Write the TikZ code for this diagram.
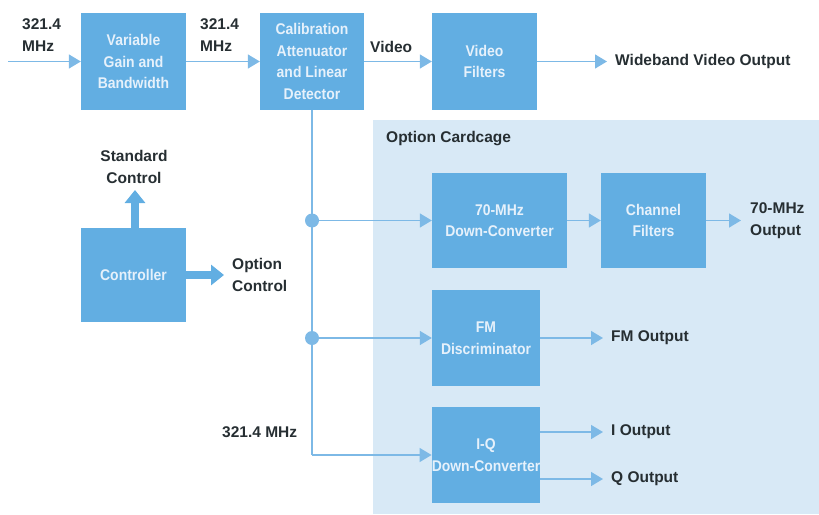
\documentclass[tikz,border=0pt]{standalone}
\usepackage{fontspec}
\setmainfont{Liberation Sans}
\newfontfamily\boxfont{Liberation Sans}[FakeStretch=0.9]
\usetikzlibrary{arrows.meta}
\definecolor{boxblue}{RGB}{98,174,226}
\definecolor{lineblue}{RGB}{125,185,230}
\definecolor{cage}{RGB}{216,233,246}
\definecolor{boxtext}{RGB}{230,241,251}
\definecolor{labeltext}{RGB}{38,46,50}
\begin{document}
\begin{tikzpicture}[x=1pt,y=-1pt,
  box/.style={rectangle, fill=boxblue, text=boxtext, font=\boxfont\bfseries\fontsize{15.5}{21.5}\selectfont, align=center, inner sep=0pt},
  lbl/.style={text=labeltext, font=\bfseries\fontsize{15.5}{22}\selectfont, align=left, inner sep=0pt},
  flow/.style={draw=lineblue, line width=1.5pt, -{Triangle[length=12pt,width=14pt]}},
  wire/.style={draw=lineblue, line width=1.5pt},
  fatarrow/.style={draw=boxblue, line width=8pt, -{Triangle[length=13pt,width=20pt]}},
  dot/.style={circle, fill=lineblue, minimum size=14pt, inner sep=0pt}]
\useasboundingbox (0,0) rectangle (819,514);
\fill[cage] (373,120) rectangle (819,514);

% boxes
\node[box, minimum width=105pt, minimum height=97pt] (vgb) at (133.5,61.5) {Variable\\Gain and\\Bandwidth};
\node[box, minimum width=104pt, minimum height=97pt] (cal) at (312,61.5) {Calibration\\Attenuator\\and Linear\\Detector};
\node[box, minimum width=105pt, minimum height=97pt] (vf) at (484.5,61.5) {Video\\Filters};
\node[box, minimum width=105pt, minimum height=94pt] (ctrl) at (133.5,275) {Controller};
\node[box, minimum width=135pt, minimum height=95pt] (dc70) at (499.5,220.5) {70-MHz\\Down-Converter};
\node[box, minimum width=105pt, minimum height=95pt] (cf) at (653.5,220.5) {Channel\\Filters};
\node[box, minimum width=108pt, minimum height=96pt] (fm) at (486,338) {FM\\Discriminator};
\node[box, minimum width=108pt, minimum height=96pt] (iq) at (486,455) {I-Q\\Down-Converter};

% labels
\node[lbl, anchor=west] (in1) at (22,35) {321.4\\MHz};
\node[lbl, anchor=west] (in2) at (200,35) {321.4\\MHz};
\node[lbl, anchor=west] (vid) at (370,47) {Video};
\node[lbl, anchor=west] (wvo) at (615,61.5) {Wideband Video Output};
\node[lbl, anchor=west] (occ) at (386,139) {Option Cardcage};
\node[lbl, align=center] (stdc) at (134,167) {Standard\\Control};
\node[lbl, anchor=west] (optc) at (232,275) {Option\\Control};
\node[lbl, anchor=west] (o70) at (750,221) {70-MHz\\Output};
\node[lbl, anchor=west] (fmo) at (611,338) {FM Output};
\node[lbl, anchor=west] (mhz) at (222,432) {321.4 MHz};
\node[lbl, anchor=west] (io) at (611,432) {I Output};
\node[lbl, anchor=west] (qo) at (611,479) {Q Output};

% main chain
\coordinate (src) at (8,61.5);
\draw[flow] (src) -- (vgb.west);
\draw[flow] (vgb.east) -- (cal.west);
\draw[flow] (cal.east) -- (vf.west);
\draw[flow] (vf.east) -- ([xshift=-8pt]wvo.west);

% bus
\node[dot] (d1) at (312,220.5) {};
\node[dot] (d2) at (312,338) {};
\coordinate (bend) at (cal.south |- iq.west);
\draw[wire] (cal.south) -- (bend);
\draw[flow] (bend) -- (iq.west);
\draw[flow] (d1) -- (dc70.west);
\draw[flow] (d2) -- (fm.west);

% cardcage outputs
\draw[flow] (dc70.east) -- (cf.west);
\draw[flow] (cf.east) -- ([xshift=-9pt]o70.west |- cf.east);
\draw[flow] (fm.east) -- ([xshift=-8pt]fmo.west);
\draw[flow] (iq.east |- io.west) -- ([xshift=-8pt]io.west);
\draw[flow] (iq.east |- qo.west) -- ([xshift=-8pt]qo.west);

% controller
\coordinate (sc) at (135,190);
\coordinate (oc) at (224,275);
\draw[fatarrow] (ctrl.north -| sc) -- (sc);
\draw[fatarrow] (ctrl.east) -- (oc);
\end{tikzpicture}
\end{document}
